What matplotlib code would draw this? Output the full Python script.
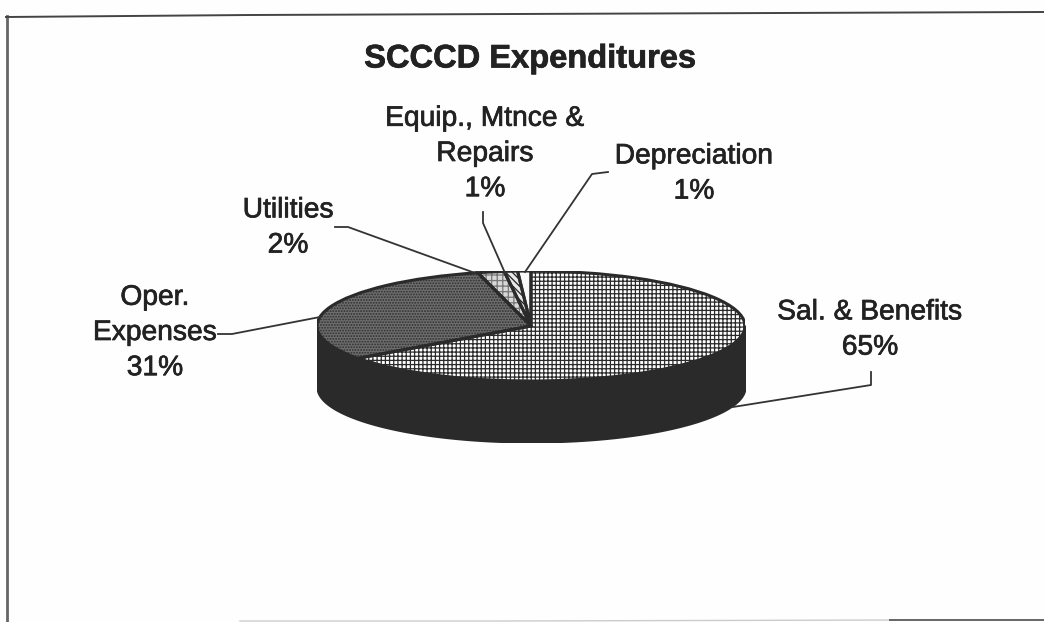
import numpy as np
import matplotlib
matplotlib.use('Agg')
import matplotlib.pyplot as plt
import matplotlib.patheffects as pe
from matplotlib.patches import Wedge

plt.rcParams['font.family'] = ['Liberation Sans', 'DejaVu Sans']
plt.rcParams['hatch.linewidth'] = 0.9

W, H = 1044, 622

categories = ['Sal. & Benefits', 'Oper.\nExpenses', 'Utilities', 'Equip., Mtnce &\nRepairs', 'Depreciation']
values = [65, 31, 2, 1, 1]

face_colors = ['white', '#6e6e6e', '#d8d8d8', '#e8e8e8', '#f8f8f8']
hatches = ['++++', '......', '+++', '\\\\\\\\\\', None]
hatch_colors = ['#2a2a2a', '#2e2e2e', '#777777', '#222222', '#f8f8f8']

# label centre in pixels, leader line for each label
label_pos = [(870, 330), (155, 333), (288, 228), (485, 154), (694, 174)]
leaders = [
    [(871, 372), (871, 385), (733, 407)],
    [(218, 334), (232, 334), (320, 317)],
    [(335, 227), (348, 227), (475, 273)],
    [(483, 212), (483, 223), (505, 273)],
    [(608, 172), (592, 174), (525, 272)],
]

fig = plt.figure(figsize=(W / 100, H / 100), dpi=100, facecolor='#fefefe')

# overlay axes in pixel coords for frame, text and leader lines
bg = fig.add_axes([0, 0, 1, 1], zorder=2)
bg.set_xlim(0, W)
bg.set_ylim(H, 0)
bg.axis('off')
bg.patch.set_alpha(0)

bg.plot([7, 7], [622, 16], color='#666666', lw=2.0)
bg.plot([6, 250, 1044], [17, 15, 12], color='#444444', lw=1.4)
bg.plot([240, 500, 900], [621, 621, 620], color='#cccccc', lw=1.0)
bg.plot([890, 1044], [620, 620], color='#666666', lw=1.4)

stroke = [pe.withStroke(linewidth=0.5, foreground='#222222')]
bg.text(530, 59, 'SCCCD Expenditures', ha='center', va='center', fontsize=23.5,
        fontweight='bold', color='#222222', path_effects=stroke)

for i in range(len(categories)):
    bg.text(label_pos[i][0], label_pos[i][1], f'{categories[i]}\n{values[i]}%', ha='center', va='center',
            fontsize=20.3, color='#222222', linespacing=1.46, path_effects=stroke)
    xs = [p[0] for p in leaders[i]]
    ys = [p[1] for p in leaders[i]]
    bg.plot(xs, ys, color='#333333', lw=1.3)

# pie: unit circle squashed into an ellipse by the axes box
cx, cy, a, b = 531, 326, 214, 55
depth = 61 / b
ax = fig.add_axes([(cx - a) / W, 1 - (cy + b + 61) / H, 2 * a / W, (2 * b + 61) / H], zorder=1)

# side wall
t = np.linspace(np.pi, 2 * np.pi, 200)
ax.fill_between(np.cos(t), np.sin(t), np.sin(t) - depth, color='#2a2a2a', lw=1.5, zorder=0)

wedges, _ = ax.pie(values, startangle=90, counterclock=False, radius=1)
for w, fc, h, hc in zip(wedges, face_colors, hatches, hatch_colors):
    w.set_facecolor(fc)
    w.set_zorder(2)
    w.set_linewidth(0)
    if h:
        # hatch takes the edge colour, the outline goes on top
        w.set_hatch(h)
        w.set_edgecolor(hc)
    ax.add_patch(Wedge(w.center, w.r, w.theta1, w.theta2, fill=False,
                       edgecolor='#2a2a2a', lw=2.2, zorder=3))

ax.set_aspect('auto')
ax.set_xlim(-1, 1)
ax.set_ylim(-1 - depth, 1)
ax.axis('off')

fig.savefig('out.png', dpi=100, facecolor=fig.get_facecolor())
